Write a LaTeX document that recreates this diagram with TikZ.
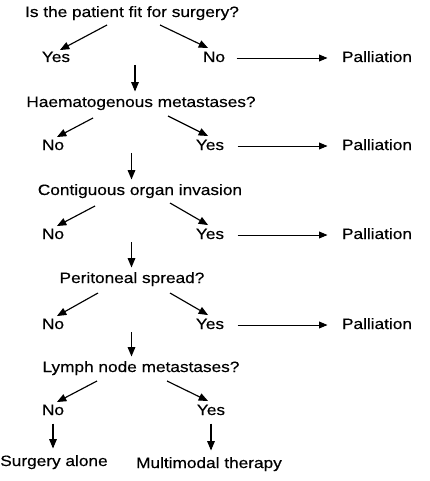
\documentclass[tikz,border=0pt]{standalone}
\usepackage{fontspec}
\setmainfont[FakeStretch=1.15,FakeBold=0.4]{Liberation Sans}
\usepackage{tikz}
\usetikzlibrary{arrows,calc}

\tikzset{
  lbl/.style={inner sep=1pt, text height=11pt, text depth=3pt}
}

\begin{document}
\begin{tikzpicture}[line join=round,>=triangle 45,x=1pt,y=-1pt,line width=1.15pt,
                    font=\fontsize{15}{18}\selectfont]
              \useasboundingbox (0,0) rectangle (429,481);

              % questions
              \node[lbl] (q1) at (132,13)  {Is the patient fit for surgery?};
              \node[lbl] (q2) at (141,103) {Haematogenous metastases?};
              \node[lbl] (q3) at (140,191) {Contiguous organ invasion};
              \node[lbl] (q4) at (132,279) {Peritoneal spread?};
              \node[lbl] (q5) at (141,368) {Lymph node metastases?};

              % answers
              \node[lbl] (yes1) at (56,58)   {Yes};
              \node[lbl] (no1)  at (214,58)  {No};
              \node[lbl] (no2)  at (53,146)  {No};
              \node[lbl] (yes2) at (210,146) {Yes};
              \node[lbl] (no3)  at (53,235)  {No};
              \node[lbl] (yes3) at (210,235) {Yes};
              \node[lbl] (no4)  at (53,325)  {No};
              \node[lbl] (yes4) at (210,325) {Yes};
              \node[lbl] (no5)  at (53,411)  {No};
              \node[lbl] (yes5) at (211,411) {Yes};

              % outcomes
              \node[lbl] (pal1) at (377,58)  {Palliation};
              \node[lbl] (pal2) at (377,146) {Palliation};
              \node[lbl] (pal3) at (377,235) {Palliation};
              \node[lbl] (pal4) at (377,325) {Palliation};
              \node[lbl] (alone) at (54,462)  {Surgery alone};
              \node[lbl] (multi) at (209,464) {Multimodal therapy};

              % branches
              \draw[->] ([shift={(-25,12)}]q1.center) -- ([shift={(4,-8)}]yes1.center);
              \draw[->] ([shift={(28,12)}]q1.center)  -- ([shift={(-6,-10)}]no1.center);
              \draw[->] ([shift={(-48,15)}]q2.center) -- ([shift={(4,-9)}]no2.center);
              \draw[->] ([shift={(27,13)}]q2.center)  -- ([shift={(-2,-10)}]yes2.center);
              \draw[->] ([shift={(-45,15)}]q3.center) -- ([shift={(4,-9)}]no3.center);
              \draw[->] ([shift={(30,12)}]q3.center)  -- ([shift={(-2,-10)}]yes3.center);
              \draw[->] ([shift={(-34,14)}]q4.center) -- ([shift={(4,-9)}]no4.center);
              \draw[->] ([shift={(38,14)}]q4.center)  -- ([shift={(-2,-10)}]yes4.center);
              \draw[->] ([shift={(-44,13)}]q5.center) -- ([shift={(4,-9)}]no5.center);
              \draw[->] ([shift={(26,13)}]q5.center)  -- ([shift={(-3,-10)}]yes5.center);

              % to palliation
              \draw[->,line width=0.9pt] ([xshift=10pt]no1.east)  -- ([xshift=-13pt]pal1.west);
              \draw[->,line width=0.9pt] ([xshift=12pt]yes2.east) -- ([xshift=-13pt]pal2.west);
              \draw[->,line width=0.9pt] ([xshift=12pt]yes3.east) -- ([xshift=-13pt]pal3.west);
              \draw[->,line width=0.9pt] ([xshift=12pt]yes4.east) -- ([xshift=-13pt]pal4.west);

              % down to next question
              \coordinate (m1) at ($(yes1)!.5!(no1)$);
              \coordinate (m2) at ($(no2)!.5!(yes2)$);
              \coordinate (m3) at ($(no3)!.5!(yes3)$);
              \coordinate (m4) at ($(no4)!.5!(yes4)$);
              \draw[->] ([yshift=-7pt]m1) -- ([yshift=3pt]m1 |- q2.north);
              \draw[->] ([yshift=-7pt]m2) -- ([yshift=3pt]m2 |- q3.north);
              \draw[->] ([yshift=-7pt]m3) -- ([yshift=3pt]m3 |- q4.north);
              \draw[->] ([yshift=-7pt]m4) -- ([yshift=3pt]m4 |- q5.north);

              \draw[->,shorten <=4pt,shorten >=5pt] (no5.south)  -- (no5.south |- alone.north);
              \draw[->,shorten <=4pt,shorten >=5pt] (yes5.south) -- (yes5.south |- multi.north);

             \end{tikzpicture}
\end{document}
